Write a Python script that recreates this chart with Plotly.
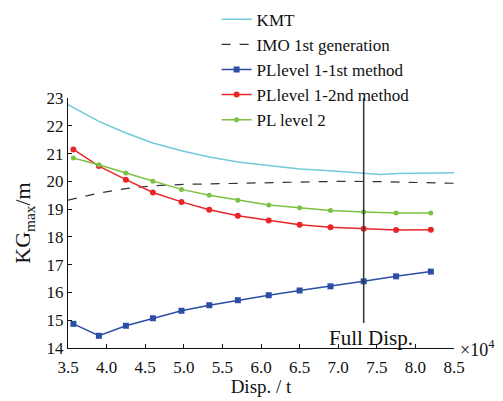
import plotly.graph_objects as go

# Displacement (x10^4 t)
disp_pts = [3.57, 3.9, 4.25, 4.6, 4.97, 5.33, 5.7, 6.1, 6.5, 6.9, 7.33, 7.75, 8.2]
pl1_first = [14.87, 14.44, 14.80, 15.07, 15.34, 15.54, 15.72, 15.90, 16.07, 16.22, 16.40, 16.58, 16.75]
pl1_second = [21.15, 20.55, 20.06, 19.60, 19.26, 18.98, 18.76, 18.59, 18.44, 18.35, 18.29, 18.25, 18.26]
pl2 = [20.84, 20.60, 20.30, 20.00, 19.71, 19.50, 19.32, 19.15, 19.05, 18.95, 18.90, 18.86, 18.86]

kmt_x = [3.5, 3.9, 4.25, 4.6, 4.97, 5.33, 5.7, 6.1, 6.5, 6.9, 7.33, 7.55, 7.75, 8.2, 8.5]
kmt_y = [22.76, 22.16, 21.74, 21.38, 21.10, 20.88, 20.70, 20.56, 20.44, 20.38, 20.30, 20.25, 20.28, 20.31, 20.31]

imo_x = [3.5, 3.9, 4.25, 4.6, 5.0, 5.5, 6.0, 6.5, 7.0, 7.5, 8.0, 8.5]
imo_y = [19.32, 19.58, 19.74, 19.84, 19.89, 19.92, 19.95, 19.98, 20.0, 19.99, 19.96, 19.93]

full_disp = 7.33
full_line_y = [23.0, 14.9]

x_ticks = [3.5, 4.0, 4.5, 5.0, 5.5, 6.0, 6.5, 7.0, 7.5, 8.0, 8.5]
y_ticks = [14, 15, 16, 17, 18, 19, 20, 21, 22, 23]

FONT = "Liberation Serif"

fig = go.Figure()
fig.add_trace(go.Scatter(x=kmt_x, y=kmt_y, mode="lines", name="KMT",
                         line=dict(color="#74c8d9", width=1.5)))
fig.add_trace(go.Scatter(x=imo_x, y=imo_y, mode="lines", name="IMO 1st generation",
                         line=dict(color="#333333", width=1.2, dash="dash")))
fig.add_trace(go.Scatter(x=disp_pts, y=pl1_first, mode="lines+markers", name="PLlevel 1-1st method",
                         line=dict(color="#2a4da6", width=1.5),
                         marker=dict(symbol="square", size=6, color="#2a4da6")))
fig.add_trace(go.Scatter(x=disp_pts, y=pl1_second, mode="lines+markers", name="PLlevel 1-2nd method",
                         line=dict(color="#e8262a", width=1.5),
                         marker=dict(symbol="circle", size=6, color="#e8262a")))
fig.add_trace(go.Scatter(x=disp_pts, y=pl2, mode="lines+markers", name="PL level 2",
                         line=dict(color="#7cc242", width=1.5),
                         marker=dict(symbol="circle", size=5, color="#7cc242")))
fig.add_trace(go.Scatter(x=[full_disp, full_disp], y=full_line_y, mode="lines", showlegend=False,
                         line=dict(color="#333333", width=1.5), hoverinfo="skip"))

fig.add_annotation(x=full_disp + 0.1, y=14.05, xref="x", yref="y", text="Full Disp.",
                   showarrow=False, yanchor="bottom", yshift=-5,
                   font=dict(family=FONT, size=21, color="#111"))
fig.add_annotation(x=1.0, y=0.0, xref="paper", yref="paper", text="×10<sup>4</sup>",
                   showarrow=False, xanchor="left", yanchor="middle", xshift=4,
                   font=dict(family=FONT, size=18, color="#111"))

# the page body adds an 8 px offset, so the figure is sized to fit the window
fig.update_layout(
    width=495, height=393,
    margin=dict(l=60, r=49, t=90, b=53, autoexpand=False),
    paper_bgcolor="white", plot_bgcolor="white",
    font=dict(family=FONT, color="#111"),
    showlegend=True,
    legend=dict(x=0.385, y=1.385, xanchor="left", yanchor="top",
                font=dict(family=FONT, size=17), bgcolor="rgba(0,0,0,0)",
                tracegroupgap=0, itemwidth=30),
)
fig.update_xaxes(range=[3.5, 8.5], tickvals=x_ticks, ticktext=[f"{v:.1f}" for v in x_ticks],
                 showgrid=False, zeroline=False, showline=True, linecolor="#111", linewidth=1.2,
                 ticks="inside", ticklen=4, tickcolor="#111", automargin=False,
                 tickfont=dict(family=FONT, size=17), ticklabelstandoff=3,
                 title=dict(text="Disp. / t", font=dict(family=FONT, size=19), standoff=0))
fig.update_yaxes(range=[14, 23], tickvals=y_ticks,
                 showgrid=False, zeroline=False, showline=True, linecolor="#111", linewidth=1.2,
                 ticks="inside", ticklen=4, tickcolor="#111", automargin=False,
                 tickfont=dict(family=FONT, size=17),
                 title=dict(text="KG<sub>max</sub>/m", font=dict(family=FONT, size=22), standoff=9))

fig.write_html("out.html")
